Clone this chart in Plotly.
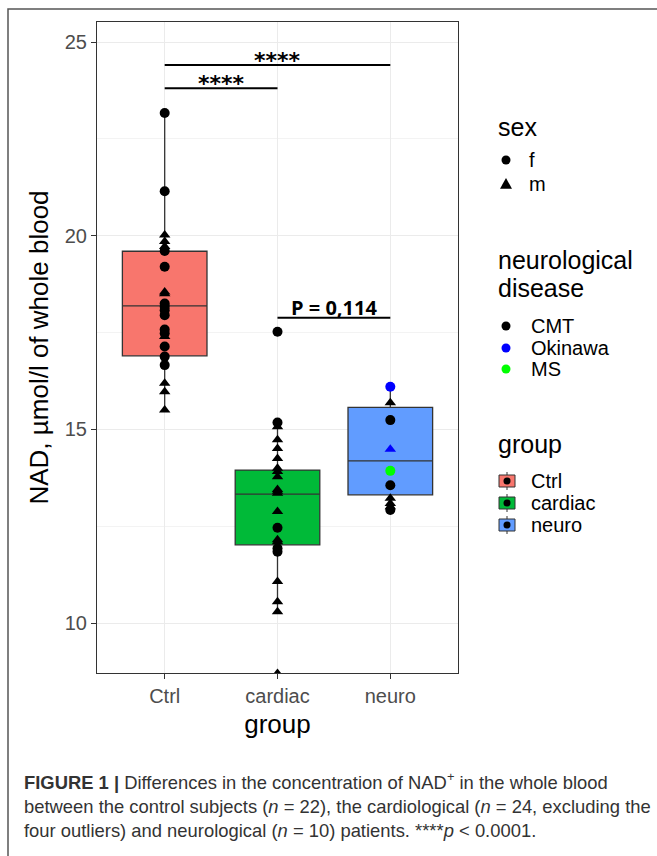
import plotly.graph_objects as go

# ---------------- data ----------------
categories = ["Ctrl", "cardiac", "neuro"]
box_colors = ["#F8766D", "#00BA38", "#619CFF"]

# box statistics
box_q1 = [16.90, 12.02, 13.31]
box_median = [18.19, 13.33, 14.19]
box_q3 = [19.60, 13.95, 15.57]
box_lower = [15.50, 10.29, 12.92]
box_upper = [23.17, 15.18, 16.10]

# individual points
ctrl_values = [23.17, 21.15, 20.02, 19.85, 19.72, 19.61, 19.20, 18.55, 18.50, 18.25, 18.17,
               18.08, 17.95, 17.58, 17.48, 17.40, 17.14, 16.88, 16.66, 16.19, 15.97, 15.50]
ctrl_sex = ["f", "f", "m", "m", "m", "f", "f", "m", "m", "f", "f",
            "f", "f", "f", "f", "m", "f", "f", "f", "m", "m", "m"]

cardiac_values = [17.52, 15.18, 15.07, 14.73, 14.51, 14.25, 14.00, 13.91, 13.78, 13.45, 13.40, 13.35,
                  12.88, 12.46, 12.15, 12.10, 11.93, 11.84, 11.07, 10.55, 10.29, 8.70]
cardiac_sex = ["f", "f", "m", "m", "m", "m", "m", "m", "m", "m", "m", "m",
               "m", "f", "m", "m", "f", "f", "m", "m", "m", "m"]

neuro_values = [16.10, 15.69, 15.24, 14.49, 13.93, 13.56, 13.22, 13.09, 13.00, 12.92]
neuro_sex = ["f", "m", "f", "m", "f", "f", "m", "m", "m", "f"]
neuro_disease = ["Okinawa", "CMT", "CMT", "Okinawa", "MS", "CMT", "CMT", "CMT", "CMT", "CMT"]

sex_levels = ["f", "m"]
sex_symbols = {"f": "circle", "m": "triangle-up"}
disease_levels = ["CMT", "Okinawa", "MS"]
disease_colors = {"CMT": "#000000", "Okinawa": "#0000FF", "MS": "#00FF00"}

sig_pairs = [("Ctrl", "cardiac"), ("Ctrl", "neuro"), ("cardiac", "neuro")]
sig_y = [23.81, 24.41, 17.88]
sig_labels = ["****", "****", "P = 0,114"]

y_range = [8.71, 25.52]
y_ticks = [10, 15, 20, 25]

caption_lines = [
    "<b>FIGURE 1 |</b> Differences in the concentration of NAD<sup>+</sup> in the whole blood",
    "between the control subjects (<i>n</i> = 22), the cardiological (<i>n</i> = 24, excluding the",
    "four outliers) and neurological (<i>n</i> = 10) patients. ****<i>p</i> &lt; 0.0001.",
]

# ---------------- figure ----------------
W, H = 657, 856
L, R, T, B = 97, 458, 22, 673   # panel edges in pixels
FONT = "Liberation Sans, Arial, sans-serif"


def px(xp):
    return (xp - L) / (R - L)


def py(yp):
    return (B - yp) / (B - T)


fig = go.Figure()

for i, c in enumerate(categories):
    fig.add_trace(go.Box(
        x=[c], q1=[box_q1[i]], median=[box_median[i]], q3=[box_q3[i]],
        lowerfence=[box_lower[i]], upperfence=[box_upper[i]],
        name=c, fillcolor=box_colors[i], line=dict(color="#333333", width=1.3),
        width=0.75, whiskerwidth=0, boxpoints=False, showlegend=False,
        hoverinfo="skip",
    ))

groups = [
    ("Ctrl", ctrl_values, ctrl_sex, ["CMT"] * len(ctrl_values)),
    ("cardiac", cardiac_values, cardiac_sex, ["CMT"] * len(cardiac_values)),
    ("neuro", neuro_values, neuro_sex, neuro_disease),
]
for name, vals, sexes, dis in groups:
    fig.add_trace(go.Scatter(
        x=[name] * len(vals), y=vals, mode="markers",
        marker=dict(symbol=[sex_symbols[s] for s in sexes],
                    color=[disease_colors[d] for d in dis], size=10,
                    line=dict(width=0)),
        showlegend=False,
    ))

shapes = []
annotations = []
for (a, b), yv, lab in zip(sig_pairs, sig_y, sig_labels):
    ia, ib = categories.index(a), categories.index(b)
    star = lab.startswith("*")
    shapes.append(dict(type="line", xref="x", yref="y", x0=ia, x1=ib, y0=yv, y1=yv,
                       line=dict(color="black", width=2)))
    annotations.append(dict(xref="x", yref="y", x=(ia + ib) / 2, y=yv, text="<b>" + lab + "</b>",
                            showarrow=False, yanchor="bottom", yshift=-10 if star else -5,
                            font=dict(family="DejaVu Sans, sans-serif" if star else "Open Sans, sans-serif",
                                      size=22 if star else 20, color="black")))

# outer frame (its right and bottom sides lie outside the picture)
shapes.append(dict(type="rect", xref="paper", yref="paper",
                   x0=px(8), x1=px(720), y0=py(920), y1=py(9),
                   line=dict(color="#555555", width=1.5), layer="below"))

# ---------------- legends (drawn as keys + labels) ----------------
KEY_X = 506
LABEL_X = 527


def label(text, x, y, size):
    annotations.append(dict(xref="paper", yref="paper", x=px(x), y=py(y), xanchor="left",
                            yanchor="middle", text=text, showarrow=False,
                            font=dict(family=FONT, size=size, color="black")))


def circle_key(cx, cy, r, color):
    shapes.append(dict(type="circle", xref="paper", yref="paper",
                       x0=px(cx - r), x1=px(cx + r), y0=py(cy + r), y1=py(cy - r),
                       fillcolor=color, line=dict(width=0)))


def triangle_key(cx, cy, s, color):
    pts = [(cx, cy - s), (cx - s, cy + 0.8 * s), (cx + s, cy + 0.8 * s)]
    path = "M " + " L ".join(f"{px(x):.5f},{py(y):.5f}" for x, y in pts) + " Z"
    shapes.append(dict(type="path", xref="paper", yref="paper", path=path,
                       fillcolor=color, line=dict(width=0)))


label("sex", 496, 127, 25)
sex_rows = [160, 184]
for s, yy in zip(sex_levels, sex_rows):
    if sex_symbols[s] == "circle":
        circle_key(KEY_X, yy, 4.5, "black")
    else:
        triangle_key(KEY_X, yy, 6, "black")
    label(s, LABEL_X, yy, 20)

label("neurological", 496, 260, 25)
label("disease", 496, 288, 25)
dis_rows = [326, 348, 369]
for d, yy in zip(disease_levels, dis_rows):
    circle_key(KEY_X, yy, 4.5, disease_colors[d])
    label(d, LABEL_X + 2, yy, 20)

label("group", 496, 444, 25)
grp_rows = [481, 503, 525]
for c, col, yy in zip(categories, box_colors, grp_rows):
    shapes.append(dict(type="line", xref="paper", yref="paper", x0=px(507), x1=px(507),
                       y0=py(yy + 9), y1=py(yy - 9), line=dict(color="#333333", width=1)))
    shapes.append(dict(type="rect", xref="paper", yref="paper", x0=px(499), x1=px(515),
                       y0=py(yy + 6), y1=py(yy - 6), fillcolor=col,
                       line=dict(color="#333333", width=1)))
    circle_key(507, yy, 3.5, "black")
    label(c, LABEL_X + 2, yy, 20)

# ---------------- caption ----------------
for k, line in enumerate(caption_lines):
    annotations.append(dict(xref="paper", yref="paper", x=px(22), y=py(781 + 25 * k),
                            xanchor="left", yanchor="middle", text=line, showarrow=False,
                            align="left", font=dict(family=FONT, size=18.4, color="#333333")))

fig.update_layout(
    width=W, height=H,
    margin=dict(l=L, r=W - R, t=T, b=H - B, pad=0),
    paper_bgcolor="white", plot_bgcolor="white",
    font=dict(family=FONT, color="black"),
    shapes=shapes, annotations=annotations, showlegend=False,
    xaxis=dict(type="category", categoryorder="array", categoryarray=categories,
               range=[-0.6, 2.6], showgrid=True, gridcolor="#EBEBEB", gridwidth=1.1,
               showline=True, mirror=True, linecolor="#333333", linewidth=1.2,
               ticks="outside", ticklen=5, tickcolor="#333333",
               tickfont=dict(size=20, color="#4D4D4D"),
               title=dict(text="group", font=dict(size=26, color="black"), standoff=8),
               zeroline=False),
    yaxis=dict(range=y_range, tickvals=y_ticks, showgrid=True, gridcolor="#EBEBEB", gridwidth=1.1,
               minor=dict(dtick=2.5, showgrid=True, gridcolor="#F3F3F3", gridwidth=0.6),
               showline=True, mirror=True, linecolor="#333333", linewidth=1.2,
               ticks="outside", ticklen=5, tickcolor="#333333",
               tickfont=dict(size=20, color="#4D4D4D"),
               title=dict(text="NAD, µmol/l of whole blood", font=dict(size=26, color="black"), standoff=8),
               zeroline=False),
)

fig.write_html(
    "out.html",
    config={"displayModeBar": False},
    post_script="document.body.style.margin='0';document.body.style.overflow='hidden';",
)
